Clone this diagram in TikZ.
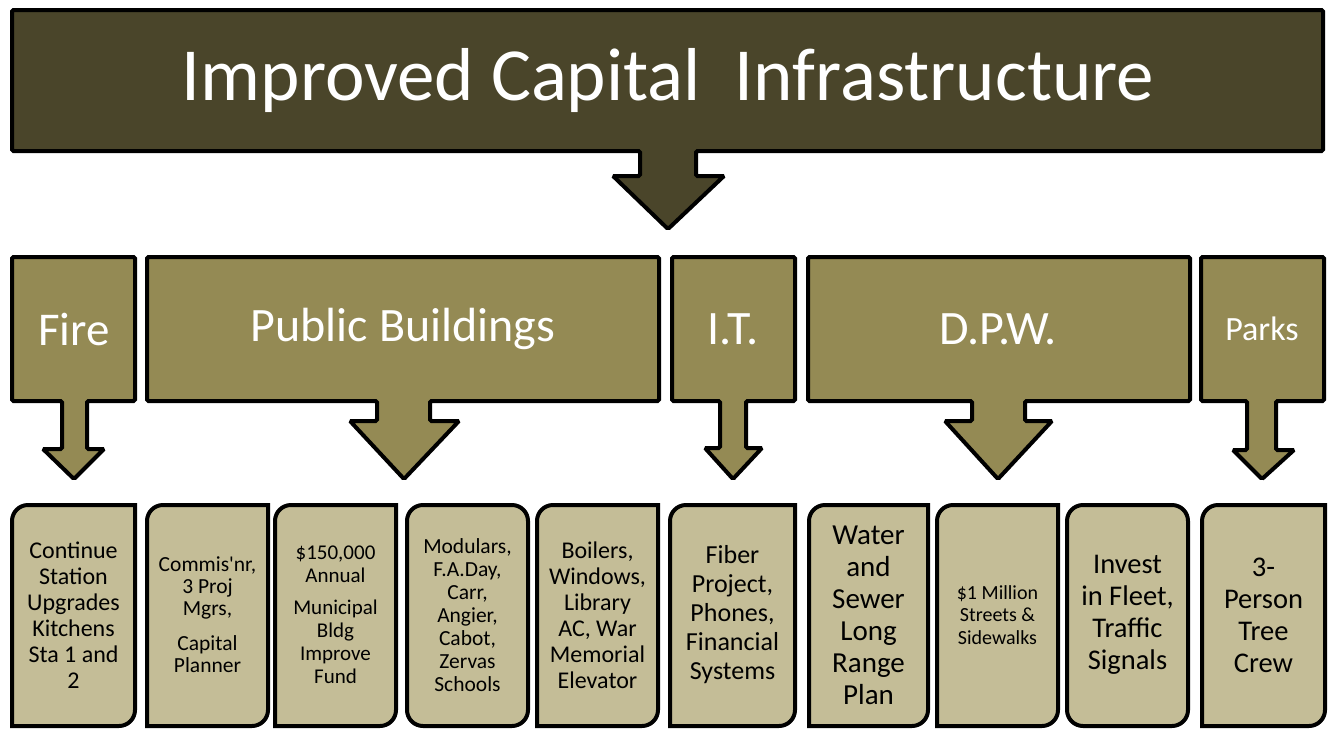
\documentclass[tikz,border=0pt]{standalone}
\usepackage{fontspec}
\setmainfont{Carlito}
\definecolor{topc}{HTML}{4A452A}
\definecolor{midc}{HTML}{948A54}
\definecolor{botc}{HTML}{C4BD97}
\newcommand\dbox[2]{\draw[bbox] (#1,615) [rounded corners=16pt] -- (#1,505) -- ({(#1+#2)/2},505) [sharp corners] -- (#2,505) -- (#2,615) [rounded corners=16pt] -- (#2,726) -- ({(#1+#2)/2},726) [sharp corners] -- (#1,726) -- cycle;}
\newcommand\rbox[2]{\draw[bbox,rounded corners=16pt] (#1,505) rectangle (#2,726);}
\begin{document}
\begin{tikzpicture}[x=1pt,y=-1pt,
  callout/.style={draw=black,line width=4pt,line join=miter,rounded corners=1.5pt,fill=#1},
  bbox/.style={draw=black,line width=4pt,fill=botc},
  toptext/.style={text=white,inner sep=0pt,font=\fontsize{75}{80}\selectfont},
  midtext/.style={text=white,inner sep=0pt,font=\fontsize{48}{52}\selectfont},
  bt/.style args={#1/#2}{align=center,inner sep=0pt,font=\fontsize{#1}{#2}\selectfont}]
\useasboundingbox (0,0) rectangle (1328,729);
% top callout
\draw[callout=topc] (12,10) -- (1323,10) -- (1323,151) -- (696,151) -- (696,176) -- (724,176) -- (668,229) -- (613,176) -- (640,176) -- (640,151) -- (12,151) -- cycle;
\node[toptext] (top) at (668,80) {Improved Capital~ Infrastructure};
% middle callouts
\draw[callout=midc] (12,257) -- (135,257) -- (135,401) -- (87,401) -- (87,449) -- (104,449) -- (74,479) -- (43,449) -- (62,449) -- (62,401) -- (12,401) -- cycle;
\draw[callout=midc] (147,257) -- (659,257) -- (659,401) -- (430,401) -- (430,421) -- (459,421) -- (404,479) -- (350,421) -- (377,421) -- (377,401) -- (147,401) -- cycle;
\draw[callout=midc] (672,257) -- (795,257) -- (795,401) -- (746,401) -- (746,448) -- (762,448) -- (733,479) -- (705,448) -- (720,448) -- (720,401) -- (672,401) -- cycle;
\draw[callout=midc] (808,257) -- (1190,257) -- (1190,401) -- (1025,401) -- (1025,421) -- (1052,421) -- (998,479) -- (945,421) -- (972,421) -- (972,401) -- (808,401) -- cycle;
\draw[callout=midc] (1201,257) -- (1324,257) -- (1324,401) -- (1276,401) -- (1276,450) -- (1294,450) -- (1262,479) -- (1233,450) -- (1247,450) -- (1247,401) -- (1201,401) -- cycle;
\node[midtext,font=\fontsize{47}{52}\selectfont] (fire) at (74,329) {Fire};
\node[midtext] (pb) at (403,329) {Public Buildings};
\node[midtext] (it) at (733,329) {I.T.};
\node[midtext] (dpw) at (998,329) {D.P.W.};
\node[midtext,font=\fontsize{34}{38}\selectfont] (parks) at (1262,329) {Parks};
% bottom boxes
\dbox{12}{135}
\dbox{147}{268}
\dbox{275}{396}
\rbox{407}{528}
\dbox{537}{658}
\dbox{670}{795}
\dbox{809}{928}
\dbox{937}{1058}
\rbox{1067}{1188}
\dbox{1202}{1325}
\node[bt={24/26}] (b1) at (73.5,615) {Continue\\Station\\Upgrades\\Kitchens\\Sta 1 and\\2};
\node[bt={21.5/22}] (b2) at (207.5,615) {Commis\textquotesingle nr,\\3 Proj\\Mgrs,\\[13pt]Capital\\Planner};
\node[bt={21/23}] (b3) at (335.5,615) {\$150,000\\Annual\\[9pt]Municipal\\Bldg\\Improve\\Fund};
\node[bt={21.5/23}] (b4) at (467.5,615) {Modulars,\\F.A.Day,\\Carr,\\Angier,\\Cabot,\\Zervas\\Schools};
\node[bt={24/26}] (b5) at (597.5,615) {Boilers,\\Windows,\\Library\\AC, War\\Memorial\\Elevator};
\node[bt={26/29}] (b6) at (732.5,615) {Fiber\\Project,\\Phones,\\Financial\\Systems};
\node[bt={29/32}] (b7) at (868.5,615) {Water\\and\\Sewer\\Long\\Range\\Plan};
\node[bt={20/22.5}] (b8) at (997.5,615) {\$1 Million\\Streets \&\\Sidewalks};
\node[bt={28.5/32}] (b9) at (1127.5,615) {Invest\\in Fleet,\\Traffic\\Signals};
\node[bt={28.5/32}] (b10) at (1263.5,615) {3-\\Person\\Tree\\Crew};
\end{tikzpicture}
\end{document}
